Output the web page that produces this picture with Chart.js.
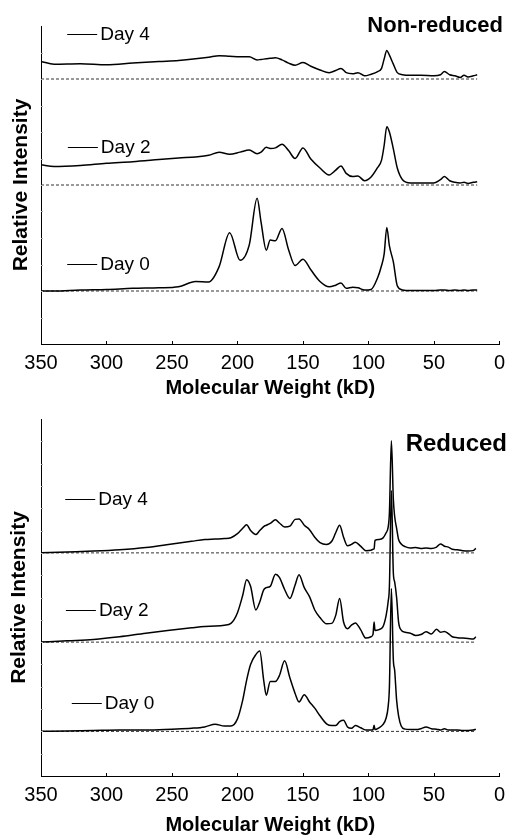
<!DOCTYPE html>
<html>
<head>
<meta charset="utf-8">
<title>Molecular weight profiles</title>
<script src="https://cdn.jsdelivr.net/npm/chart.js@4.4.0/dist/chart.umd.min.js"></script>
<style>
    body { margin: 0; background: #fff; }
    canvas.panel { position: absolute; left: 0; }
</style>
</head>
<body>
<canvas id="nonReduced" class="panel" width="512" height="400" style="top:0"></canvas>
<canvas id="reduced" class="panel" width="512" height="437" style="top:400px"></canvas>
<script>
// Molecular weight axis (kD) and tick labels
const mwTicks = [350, 300, 250, 200, 150, 100, 50, 0];
const dayNames = ['Day 0', 'Day 2', 'Day 4'];
const laneOffsets = [1, 3, 5];

// Non-reduced traces, intensity above each lane's baseline
const nrMw = [350, 340, 320, 300, 280, 260, 245, 232, 222, 214, 206, 198, 191, 185, 182, 178, 175, 171, 166, 161,
    156, 150, 144, 137, 130, 125, 121, 117, 112, 108, 103, 98, 93, 90, 88, 86, 84, 81, 78, 74,
    68, 60, 50, 45, 42, 38, 34, 30, 27, 24, 20, 17];
const nrDay0 = [0.00, 0.00, 0.02, 0.03, 0.05, 0.06, 0.08, 0.18, 0.17, 0.46, 1.10, 0.58, 0.87, 1.75, 1.30, 0.77, 0.96, 0.95, 1.18, 0.78,
    0.48, 0.60, 0.40, 0.18, 0.08, 0.11, 0.15, 0.05, 0.07, 0.06, 0.02, 0.03, 0.25, 0.48, 0.70, 1.20, 0.85, 0.55, 0.10, 0.02,
    0.01, 0.01, 0.01, 0.02, 0.02, 0.01, 0.02, 0.01, 0.02, 0.01, 0.02, 0.02];
const nrDay2 = [0.38, 0.35, 0.37, 0.41, 0.44, 0.48, 0.51, 0.53, 0.56, 0.62, 0.58, 0.62, 0.66, 0.59, 0.62, 0.71, 0.69, 0.70, 0.77, 0.65,
    0.50, 0.70, 0.49, 0.32, 0.19, 0.28, 0.36, 0.22, 0.16, 0.17, 0.08, 0.15, 0.33, 0.47, 0.75, 1.10, 1.00, 0.68, 0.32, 0.10,
    0.04, 0.04, 0.04, 0.10, 0.16, 0.08, 0.05, 0.04, 0.05, 0.03, 0.05, 0.06];
const nrDay4 = [0.33, 0.28, 0.29, 0.27, 0.30, 0.33, 0.35, 0.38, 0.41, 0.44, 0.43, 0.42, 0.42, 0.36, 0.37, 0.38, 0.39, 0.40, 0.36, 0.30,
    0.26, 0.31, 0.24, 0.17, 0.12, 0.16, 0.20, 0.12, 0.10, 0.12, 0.06, 0.09, 0.14, 0.20, 0.38, 0.54, 0.45, 0.28, 0.12, 0.08,
    0.07, 0.07, 0.06, 0.08, 0.14, 0.08, 0.06, 0.03, 0.07, 0.04, 0.06, 0.08];

// Reduced traces
const rdMw = [350, 330, 310, 290, 270, 250, 235, 225, 217, 210, 205, 200, 196, 193, 190, 186, 183, 180, 178, 175,
    171, 168, 164, 160, 156, 153, 149, 145, 141, 137, 132, 128, 125, 122, 119, 116, 113, 110, 106, 102,
    98, 96.5, 95.7, 95, 92, 89, 86.5, 85, 84, 82.5, 81, 80, 78.5, 77, 75, 72, 68, 64, 60, 56,
    52, 48, 45, 42, 39, 36, 32, 28, 24, 20, 18];
const rdDay0 = [0.00, 0.01, 0.02, 0.03, 0.03, 0.05, 0.07, 0.10, 0.16, 0.12, 0.12, 0.28, 0.70, 1.15, 1.50, 1.72, 1.80, 1.15, 0.81, 1.12,
    1.12, 1.25, 1.58, 1.20, 0.85, 0.66, 0.82, 0.66, 0.52, 0.35, 0.17, 0.13, 0.13, 0.22, 0.25, 0.10, 0.07, 0.13, 0.08, 0.03,
    0.03, 0.04, 0.14, 0.04, 0.08, 0.15, 0.30, 0.55, 1.00, 3.20, 1.60, 1.37, 0.70, 0.35, 0.12, 0.05, 0.04, 0.04, 0.06, 0.10,
    0.06, 0.05, 0.03, 0.06, 0.03, 0.03, 0.03, 0.02, 0.02, 0.03, 0.05];
const rdDay2 = [0.00, 0.03, 0.06, 0.12, 0.20, 0.27, 0.32, 0.35, 0.36, 0.38, 0.42, 0.66, 1.05, 1.40, 1.25, 0.72, 0.90, 1.17, 1.22, 1.25,
    1.52, 1.45, 1.18, 0.98, 1.28, 1.51, 1.22, 1.02, 0.72, 0.55, 0.41, 0.42, 0.60, 0.98, 0.45, 0.30, 0.38, 0.43, 0.28, 0.09,
    0.12, 0.18, 0.45, 0.26, 0.28, 0.34, 0.60, 0.90, 1.25, 3.40, 1.55, 1.35, 1.00, 0.45, 0.27, 0.22, 0.20, 0.15, 0.17, 0.23,
    0.18, 0.29, 0.22, 0.24, 0.19, 0.12, 0.10, 0.09, 0.08, 0.07, 0.12];
const rdDay4 = [0.00, 0.02, 0.04, 0.07, 0.12, 0.20, 0.26, 0.30, 0.31, 0.32, 0.34, 0.43, 0.55, 0.63, 0.50, 0.41, 0.50, 0.59, 0.62, 0.66,
    0.74, 0.67, 0.58, 0.60, 0.75, 0.76, 0.62, 0.52, 0.35, 0.23, 0.19, 0.26, 0.45, 0.62, 0.35, 0.16, 0.19, 0.24, 0.15, 0.05,
    0.06, 0.08, 0.09, 0.28, 0.30, 0.33, 0.45, 0.57, 0.90, 2.51, 1.20, 0.82, 0.55, 0.30, 0.20, 0.14, 0.11, 0.12, 0.10, 0.11,
    0.10, 0.13, 0.20, 0.15, 0.13, 0.08, 0.07, 0.05, 0.04, 0.05, 0.10];

const FONT = '"Liberation Sans", Arial, Helvetica, sans-serif';
Chart.defaults.font.family = FONT;
Chart.defaults.color = '#000';

// Inward ticks, lane captions and the panel heading
const traceMarks = {
    id: 'traceMarks',
    afterDraw(chart, args, opts) {
        const ctx = chart.ctx;
        const xs = chart.scales.x;
        const ys = chart.scales.y;
        ctx.save();
        ctx.strokeStyle = '#000';
        ctx.lineWidth = 1;
        mwTicks.forEach(v => {
            const px = Math.round(xs.getPixelForValue(v)) + 0.5;
            ctx.beginPath();
            ctx.moveTo(px, ys.bottom);
            ctx.lineTo(px, ys.bottom - 3);
            ctx.stroke();
        });
        ctx.strokeStyle = '#aaa';
        for (let v = 0.5; v < ys.max; v += 0.5) {
            const py = Math.round(ys.getPixelForValue(v)) + 0.5;
            ctx.beginPath();
            ctx.moveTo(xs.left, py);
            ctx.lineTo(xs.left + 2, py);
            ctx.stroke();
        }

        ctx.strokeStyle = '#000';
        ctx.fillStyle = '#000';
        ctx.font = '19px ' + FONT;
        ctx.textBaseline = 'middle';
        ctx.textAlign = 'left';
        opts.captions.forEach(c => {
            const px = xs.getPixelForValue(c.mw);
            const py = Math.round(ys.getPixelForValue(c.y)) + 0.5;
            ctx.beginPath();
            ctx.moveTo(px, py);
            ctx.lineTo(px + 30, py);
            ctx.stroke();
            ctx.fillText(c.text, px + 33, py);
        });

        ctx.font = 'bold ' + opts.headingSize + 'px ' + FONT;
        ctx.textAlign = 'right';
        ctx.textBaseline = 'alphabetic';
        ctx.fillText(opts.heading, opts.headingX, opts.headingY);
        ctx.restore();
    }
};

function buildPanel(canvasId, mw, lanes, cfg) {
    const datasets = [];
    lanes.forEach((lane, i) => {
        const base = laneOffsets[i];
        datasets.push({
            label: dayNames[i] + ' baseline',
            data: [{ x: mw[0], y: base }, { x: mw[mw.length - 1], y: base }],
            borderColor: '#333',
            borderWidth: 1,
            borderDash: [3, 2],
            tension: 0,
            order: 2
        });
        datasets.push({
            label: dayNames[i],
            data: mw.map((m, j) => ({ x: m, y: base + lane[j] })),
            borderColor: '#000',
            borderWidth: 1.5,
            cubicInterpolationMode: 'monotone',
            order: 1
        });
    });

    return new Chart(document.getElementById(canvasId), {
        type: 'line',
        data: { datasets },
        plugins: [traceMarks],
        options: {
            responsive: false,
            animation: false,
            devicePixelRatio: 1,
            layout: { padding: { top: cfg.padTop, right: 10, left: 0, bottom: 0 } },
            elements: { point: { radius: 0 } },
            plugins: {
                legend: { display: false },
                tooltip: { enabled: false },
                traceMarks: {
                    captions: cfg.captions,
                    heading: cfg.heading,
                    headingSize: cfg.headingSize,
                    headingX: cfg.headingX,
                    headingY: cfg.headingY
                }
            },
            scales: {
                x: {
                    type: 'linear',
                    min: 0,
                    max: 350,
                    reverse: true,
                    afterBuildTicks: s => { s.ticks = mwTicks.map(v => ({ value: v })); },
                    afterFit: s => { s.height = cfg.xAxisHeight; },
                    ticks: { font: { size: 20 }, color: '#000', padding: 7, maxRotation: 0, autoSkip: false },
                    grid: { display: false, drawTicks: false },
                    border: { color: '#000', width: 1 },
                    title: {
                        display: true,
                        text: 'Molecular Weight (kD)',
                        font: { size: 20, weight: 'bold' },
                        color: '#000',
                        padding: 0
                    }
                },
                y: {
                    min: 0,
                    max: cfg.yMax,
                    afterFit: s => { s.width = 41; },
                    ticks: { display: false },
                    grid: { display: false, drawTicks: false },
                    border: { color: '#000', width: 1 },
                    title: {
                        display: true,
                        text: 'Relative Intensity',
                        font: { size: 21, weight: 'bold' },
                        color: '#000',
                        padding: { top: cfg.yTitlePad, bottom: 0 }
                    }
                }
            }
        }
    });
}

buildPanel('nonReduced', nrMw, [nrDay0, nrDay2, nrDay4], {
    yMax: 6,
    padTop: 26,
    xAxisHeight: 56,
    yTitlePad: 9,
    heading: 'Non-reduced',
    headingSize: 22,
    headingX: 503,
    headingY: 32,
    captions: [
        { text: 'Day 4', mw: 330, y: 5.85 },
        { text: 'Day 2', mw: 329.5, y: 3.72 },
        { text: 'Day 0', mw: 330, y: 1.51 }
    ]
});

buildPanel('reduced', rdMw, [rdDay0, rdDay2, rdDay4], {
    yMax: 8,
    padTop: 19,
    xAxisHeight: 61,
    yTitlePad: 7,
    heading: 'Reduced',
    headingSize: 24,
    headingX: 507,
    headingY: 51,
    captions: [
        { text: 'Day 4', mw: 331.5, y: 6.21 },
        { text: 'Day 2', mw: 331, y: 3.73 },
        { text: 'Day 0', mw: 326.5, y: 1.63 }
    ]
});
</script>
</body>
</html>
